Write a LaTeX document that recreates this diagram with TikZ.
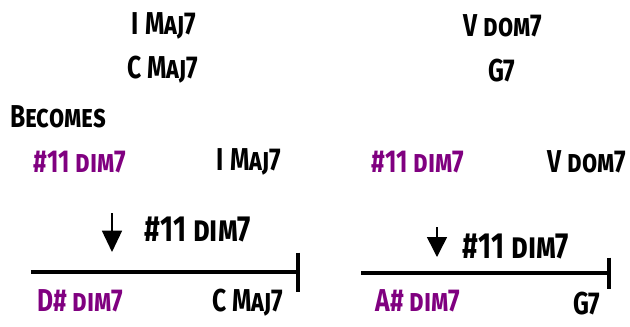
\documentclass[tikz,border=0pt]{standalone}
\usepackage{fontspec}
\setmainfont[FakeStretch=0.78]{Fira Sans}
\usepackage{tikz}
\usetikzlibrary{arrows.meta,positioning}
\definecolor{ink}   {HTML}{000000}
\definecolor{dimpur}{HTML}{800080}
\tikzset{
  chord/.style    ={text=ink, font=\fontsize{27}{29}\selectfont\bfseries\scshape,
                    inner sep=0pt, anchor=center},
  dimchord/.style ={chord, text=dimpur},
  marklbl/.style  ={chord, font=\fontsize{31}{33}\selectfont\bfseries\scshape},
  downarr/.style  ={-{Triangle[length=0.64cm,width=0.6cm]}, line width=1.3pt, draw=ink},
  barline/.style  ={line width=3.4pt, draw=ink},
}
\begin{document}
\begin{tikzpicture}[x=1cm,y=1cm]
    \useasboundingbox (0,0) rectangle (18.9,-9.78);
    % original chords
    \node[chord] (imaj)  at (4.92,-0.78)  {I Maj7};
    \node[chord] (cmaj)  at (4.89,-2.10)  {C Maj7};
    \node[chord] (vdom)  at (15.09,-0.78) {V dom7};
    \node[chord] (gsev)  at (15.06,-2.13) {G7};
    \node[chord,anchor=west] (becomes) at (0.30,-3.51) {Becomes};

    % substitution row
    \node[dimchord] (subi)  at (2.40,-4.86)  {\#11 dim7};
    \node[chord]    (toi)   at (7.47,-4.86)  {I Maj7};
    \node[dimchord] (subv)  at (12.54,-4.86) {\#11 dim7};
    \node[chord]    (tov)   at (17.61,-4.86) {V dom7};

    % left timeline
    \coordinate (aitop) at (3.36,-6.39);
    \coordinate (aitip) at (3.36,-7.56);
    \draw[downarr] (aitop) -- (aitip);
    \node[marklbl] (lbli) at (5.94,-6.90) {\#11 dim7};
    \coordinate (li0) at (0.93,-8.16);
    \coordinate (li1) at (8.985,-8.16);
    \draw[barline,-{Bar[width=1.17cm]}] (li0) -- (li1);
    \node[dimchord] (dsharp) at (2.40,-9.03) {D\# dim7};
    \node[chord]    (cend)   at (7.44,-9.09) {C Maj7};

    % right timeline
    \coordinate (avtop) at (13.11,-6.81);
    \coordinate (avtip) at (13.11,-7.71);
    \draw[downarr,-{Triangle[length=0.6cm,width=0.6cm]}] (avtop) -- (avtip);
    \node[marklbl] (lblv) at (15.48,-7.41) {\#11 dim7};
    \coordinate (lv0) at (10.83,-8.19);
    \coordinate (lv1) at (18.33,-8.19);
    \draw[barline,-{Bar[width=0.93cm]}] (lv0) -- (lv1);
    \node[dimchord] (asharp) at (12.54,-9.03) {A\# dim7};
    \node[chord]    (gend)   at (17.61,-9.12) {G7};
\end{tikzpicture}
\end{document}
